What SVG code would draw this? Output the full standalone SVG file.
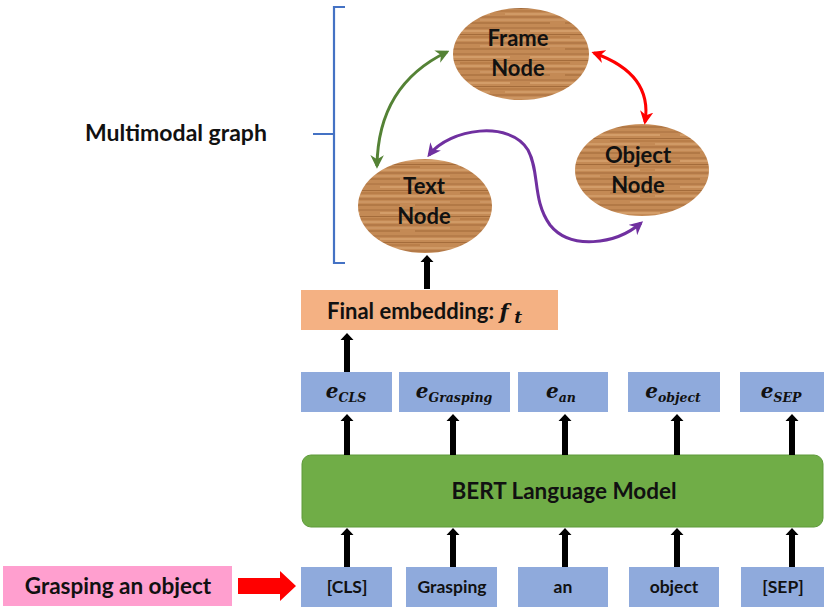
<svg xmlns="http://www.w3.org/2000/svg" width="824" height="611" viewBox="0 0 824 611">
<defs>
<style>
.lbl{font-family:Lato,"Open Sans","Liberation Sans",sans-serif;font-weight:bold;fill:#111;}
.math{font-family:"DejaVu Serif","Liberation Serif",serif;font-style:italic;font-weight:bold;fill:#111;}
.tok{fill:#8FAADC;}
.blk{fill:#000;}
.wood{fill:url(#wood);}
</style>
<pattern id="wood" patternUnits="userSpaceOnUse" width="150" height="26">
<rect width="150" height="26" fill="#C48A55"/>
<path d="M0 2 H150" stroke="#A96F3E" stroke-width="1"/>
<path d="M0 5 H60 M80 5 H150" stroke="#D9A46F" stroke-width="1.5"/>
<path d="M0 8.5 H150" stroke="#9C6535" stroke-width="0.8"/>
<path d="M10 11 H120" stroke="#B57A45" stroke-width="1.6"/>
<path d="M0 14 H40 M55 14 H150" stroke="#DDAA76" stroke-width="1"/>
<path d="M0 17 H150" stroke="#A46B3A" stroke-width="1.2"/>
<path d="M30 20 H150" stroke="#CF9966" stroke-width="1.4"/>
<path d="M0 23 H100 M115 23 H150" stroke="#96602F" stroke-width="0.8"/>
</pattern>
<marker id="mg" viewBox="0 0 10 10" refX="8" refY="5" markerWidth="4.5" markerHeight="4.5" orient="auto-start-reverse" markerUnits="strokeWidth"><path d="M0 0 L10 5 L0 10 L3 5 Z" fill="#548235"/></marker>
<marker id="mr" viewBox="0 0 10 10" refX="8" refY="5" markerWidth="4.5" markerHeight="4.5" orient="auto-start-reverse" markerUnits="strokeWidth"><path d="M0 0 L10 5 L0 10 L3 5 Z" fill="#FF0000"/></marker>
<marker id="mp" viewBox="0 0 10 10" refX="8" refY="5" markerWidth="4.5" markerHeight="4.5" orient="auto-start-reverse" markerUnits="strokeWidth"><path d="M0 0 L10 5 L0 10 L3 5 Z" fill="#7030A0"/></marker>
</defs>
<rect width="824" height="611" fill="#FFFFFF"/>

<g id="multimodal-graph-label">
<path d="M345 7 H334 V263 H345 M334 134 H313" fill="none" stroke="#4472C4" stroke-width="2.2"/>
<text class="lbl" x="176" y="141" font-size="23" text-anchor="middle">Multimodal graph</text>
</g>

<g id="frame-node">
<ellipse class="wood" cx="521" cy="54" rx="68" ry="46"/>
<text class="lbl" x="518" y="46" font-size="22" text-anchor="middle">Frame</text>
<text class="lbl" x="518" y="76" font-size="22" text-anchor="middle">Node</text>
</g>
<g id="object-node">
<ellipse class="wood" cx="642" cy="170" rx="67" ry="46"/>
<text class="lbl" x="638" y="163" font-size="22" text-anchor="middle">Object</text>
<text class="lbl" x="638" y="193" font-size="22" text-anchor="middle">Node</text>
</g>
<g id="text-node">
<ellipse class="wood" cx="425" cy="206" rx="67" ry="47"/>
<text class="lbl" x="424" y="194" font-size="22" text-anchor="middle">Text</text>
<text class="lbl" x="424" y="224" font-size="22" text-anchor="middle">Node</text>
</g>

<g id="final-embedding">
<rect x="301" y="290" width="257" height="40" fill="#F4B183"/>
<text class="lbl" x="327" y="319" font-size="22">Final embedding: <tspan class="math" font-size="21">f</tspan><tspan class="math" font-size="17" dy="4"> t</tspan></text>
</g>

<g id="embeddings">
<rect class="tok" x="301" y="372" width="91" height="40"/>
<text class="math" x="346" y="398" font-size="20" text-anchor="middle">e<tspan font-size="12.5" dy="4">CLS</tspan></text>
<rect class="tok" x="399" y="372" width="111" height="40"/>
<text class="math" x="454" y="398" font-size="20" text-anchor="middle">e<tspan font-size="12.5" dy="4">Grasping</tspan></text>
<rect class="tok" x="518" y="372" width="90" height="40"/>
<text class="math" x="561" y="398" font-size="20" text-anchor="middle">e<tspan font-size="12.5" dy="4">an</tspan></text>
<rect class="tok" x="628" y="372" width="92" height="40"/>
<text class="math" x="673" y="398" font-size="20" text-anchor="middle">e<tspan font-size="12.5" dy="4">object</tspan></text>
<rect class="tok" x="740" y="372" width="84" height="40"/>
<text class="math" x="781" y="398" font-size="20" text-anchor="middle">e<tspan font-size="12.5" dy="4">SEP</tspan></text>
</g>

<g id="bert">
<rect x="302" y="455" width="521" height="72" rx="9" fill="#70AD47" stroke="#5E9A3A" stroke-width="1"/>
<text class="lbl" x="564" y="499" font-size="22.5" text-anchor="middle">BERT Language Model</text>
</g>

<g id="tokens">
<rect class="tok" x="301" y="567" width="91" height="40"/>
<text class="lbl" x="347" y="593" font-size="17.5" text-anchor="middle">[CLS]</text>
<rect class="tok" x="406" y="567" width="91" height="40"/>
<text class="lbl" x="452" y="593" font-size="17.5" text-anchor="middle">Grasping</text>
<rect class="tok" x="518" y="567" width="90" height="40"/>
<text class="lbl" x="563" y="593" font-size="17.5" text-anchor="middle">an</text>
<rect class="tok" x="629" y="567" width="90" height="40"/>
<text class="lbl" x="674" y="593" font-size="17.5" text-anchor="middle">object</text>
<rect class="tok" x="741" y="567" width="83" height="40"/>
<text class="lbl" x="783" y="593" font-size="17.5" text-anchor="middle">[SEP]</text>
</g>

<g id="input-sentence">
<rect x="3" y="566" width="229" height="40" fill="#FF9FCF"/>
<text class="lbl" x="118" y="594" font-size="22.5" text-anchor="middle">Grasping an object</text>
</g>

<g id="connectors">
<path d="M447 52 Q378 85 377 166" fill="none" stroke="#548235" stroke-width="3" marker-start="url(#mg)" marker-end="url(#mg)"/>
<path d="M594 53 Q653 74 645 122" fill="none" stroke="#FF0000" stroke-width="3" marker-start="url(#mr)" marker-end="url(#mr)"/>
<path d="M429 155 C450 128 510 120 528 150 C540 172 532 200 550 225 C570 250 615 245 641 223" fill="none" stroke="#7030A0" stroke-width="3" marker-start="url(#mp)" marker-end="url(#mp)"/>
<polygon class="blk" points="427,255 433.5,262 430,262 430,289 424,289 424,262 420.5,262"/>
<polygon class="blk" points="347,333 353.5,340 350,340 350,372 344,372 344,340 340.5,340"/>
<polygon class="blk" points="347,414 353.5,421 350,421 350,455 344,455 344,421 340.5,421"/>
<polygon class="blk" points="453,414 459.5,421 456,421 456,455 450,455 450,421 446.5,421"/>
<polygon class="blk" points="565,414 571.5,421 568,421 568,455 562,455 562,421 558.5,421"/>
<polygon class="blk" points="677,414 683.5,421 680,421 680,455 674,455 674,421 670.5,421"/>
<polygon class="blk" points="792,414 798.5,421 795,421 795,455 789,455 789,421 785.5,421"/>
<polygon class="blk" points="347,528 353.5,535 350,535 350,567 344,567 344,535 340.5,535"/>
<polygon class="blk" points="453,528 459.5,535 456,535 456,567 450,567 450,535 446.5,535"/>
<polygon class="blk" points="565,528 571.5,535 568,535 568,567 562,567 562,535 558.5,535"/>
<polygon class="blk" points="677,528 683.5,535 680,535 680,567 674,567 674,535 670.5,535"/>
<polygon class="blk" points="792,528 798.5,535 795,535 795,567 789,567 789,535 785.5,535"/>
<polygon points="238,578 280,578 280,571 296,586 280,601 280,594 238,594" fill="#FF0000"/>
</g>
</svg>
